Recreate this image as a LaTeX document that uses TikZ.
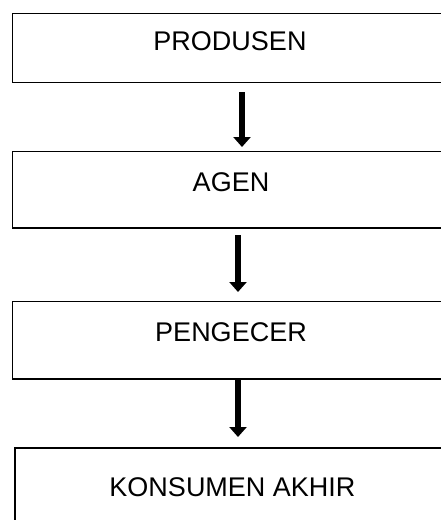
\documentclass[tikz,border=0pt]{standalone}
\usepackage{fontspec}
\setmainfont{Liberation Sans}
\usetikzlibrary{arrows.meta}

\tikzset{
  stagebox/.style={draw=black, line width=1.8pt, rectangle, outer sep=0pt,
    inner sep=0pt, anchor=north west, fill=none},
  stagetext/.style={inner sep=0pt, anchor=center, text height=19.3pt,
    text depth=0pt, font=\fontsize{27}{30}\selectfont},
  flowarrow/.style={line width=6.8pt,
    -{Triangle[width=17pt,length=10pt]}},
}

\begin{document}
\begin{tikzpicture}[x=1pt, y=-1pt]
  \useasboundingbox (0,0) rectangle (441,520);
  \clip (0,0) rectangle (441,520);

  % channel stages, stacked top to bottom
  \node[stagebox, minimum width=438pt, minimum height=69pt]   (prod) at (12.5,13.5) {};
  \node[stagebox, minimum width=438pt, minimum height=76.5pt] (agen) at (12.5,151.5) {};
  \node[stagebox, minimum width=438pt, minimum height=77.5pt] (peng) at (12.5,301.5) {};
  \node[stagebox, minimum width=438pt, minimum height=100pt]  (kons) at (15,448) {};

  % stage labels near the top of each box
  \node[stagetext] (tprod) at (230,41)  {PRODUSEN};
  \node[stagetext] (tagen) at (231,182) {AGEN};
  \node[stagetext] (tpeng) at (231,332) {PENGECER};
  \node[stagetext] (tkons) at (232.5,487) {KONSUMEN AKHIR};

  % flow arrows between stages
  \draw[flowarrow] ([xshift=10.5pt,yshift=-9.5pt]prod.south) -- ([xshift=10.5pt,yshift=4.5pt]agen.north);
  \draw[flowarrow] ([xshift=6.5pt,yshift=-7pt]agen.south) -- ([xshift=6.5pt,yshift=9.5pt]peng.north);
  \draw[flowarrow] ([xshift=6.5pt]peng.south) -- ([xshift=4pt,yshift=11pt]kons.north);
\end{tikzpicture}
\end{document}
